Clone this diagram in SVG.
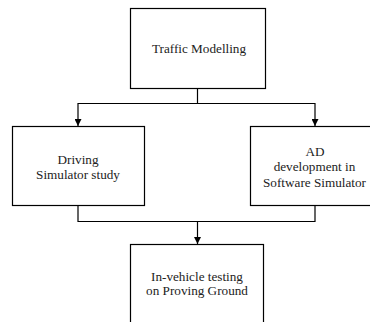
<svg xmlns="http://www.w3.org/2000/svg" width="370" height="322" viewBox="0 0 370 322">
<style>
.box{fill:#fff;stroke:#000;stroke-width:1.2}
.t{font-family:'Liberation Serif','DejaVu Serif','Times New Roman',serif;font-size:13.2px;fill:#222;text-anchor:middle}
.c{fill:none;stroke:#000;stroke-width:1.2}
</style>
<defs>
<marker id="ah" viewBox="0 0 10 10" refX="10" refY="5" markerWidth="7" markerHeight="7" markerUnits="userSpaceOnUse" orient="auto">
<path d="M0,0 L10,5 L0,10 Z" fill="#000"/>
</marker>
</defs>
<rect width="370" height="322" fill="#fff"/>
<g id="connectors">
<path class="c" d="M197.5,88 V103.5 H78 V126" marker-end="url(#ah)"/>
<path class="c" d="M197.5,103.5 H315 V126" marker-end="url(#ah)"/>
<path class="c" d="M78,205 V221.5 H315 V205"/>
<path class="c" d="M197.5,221.5 V244" marker-end="url(#ah)"/>
</g>
<g id="traffic">
<rect class="box" x="130.5" y="8.5" width="135" height="80"/>
<text class="t" x="199" y="52.5">Traffic Modelling</text>
</g>
<g id="driving">
<rect class="box" x="12.5" y="126.5" width="132" height="79"/>
<text class="t" x="78" y="164">Driving</text>
<text class="t" x="78" y="178.5">Simulator study</text>
</g>
<g id="ad">
<rect class="box" x="250.5" y="126.5" width="130" height="79"/>
<text class="t" x="315" y="155.5">AD</text>
<text class="t" x="314.5" y="171">development in</text>
<text class="t" x="314.5" y="186.5">Software Simulator</text>
</g>
<g id="invehicle">
<rect class="box" x="130.5" y="244.5" width="133" height="90"/>
<text class="t" x="197" y="280.5">In-vehicle testing</text>
<text class="t" x="197" y="295">on Proving Ground</text>
</g>
</svg>
